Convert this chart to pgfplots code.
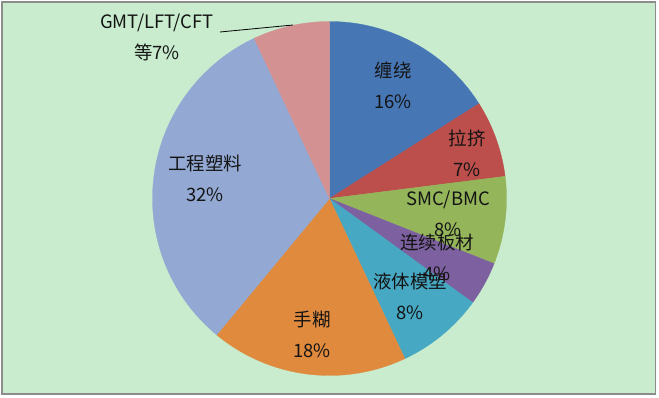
\documentclass[border=0pt]{standalone}
\usepackage{fontspec}
\setmainfont{Noto Sans CJK SC}
\usepackage{pgfplots}
\pgfplotsset{compat=1.18}
\definecolor{bg}{HTML}{C8ECCD}
\definecolor{frame}{HTML}{8C8C8C}
\definecolor{c1}{HTML}{4676B4}
\definecolor{c2}{HTML}{BC4E4B}
\definecolor{c3}{HTML}{94B55A}
\definecolor{c4}{HTML}{7D60A0}
\definecolor{c5}{HTML}{46A8C3}
\definecolor{c6}{HTML}{E08A3E}
\definecolor{c7}{HTML}{93A9D3}
\definecolor{c8}{HTML}{D39192}
\definecolor{txt}{HTML}{141414}
% #1 = cumulative percent before slice, #2 = slice percent, #3 = colour
\newcommand{\pieslice}[3]{%
  \addplot[draw=#3, line width=0.3pt, fill=#3, variable=\t, samples=90,
    domain={90-3.6*(#1+#2)}:{90-3.6*(#1)}]
    ({329.5+177*cos(\t)},{199.5+177*sin(\t)}) -- (axis cs:329.5,199.5) -- cycle;}
\begin{document}
\begin{tikzpicture}
\begin{axis}[width=659bp, height=398bp, scale only axis,
  xmin=0, xmax=659, ymin=0, ymax=398, hide axis, clip=false]
\fill[white] (axis cs:0,0) rectangle (axis cs:659,398);
\draw[fill=bg, draw=frame, line width=1.5bp] (axis cs:2,4) rectangle (axis cs:655.5,396);
% data: 缠绕 16, 拉挤 7, SMC/BMC 8, 连续板材 4, 液体模塑 8, 手糊 18, 工程塑料 32, GMT/LFT/CFT等 7
\pieslice{0}{16}{c1}
\pieslice{16}{7}{c2}
\pieslice{23}{8}{c3}
\pieslice{31}{4}{c4}
\pieslice{35}{8}{c5}
\pieslice{43}{18}{c6}
\pieslice{61}{32}{c7}
\pieslice{93}{7}{c8}
\draw[black, line width=0.8bp] (axis cs:220,366) -- (axis cs:293,373);
\begin{scope}[every node/.style={align=center, text=txt, inner sep=0pt,
   font=\fontsize{18.5}{31}\selectfont}]
\node at (axis cs:393,313) {缠绕\\16\%};
\node at (axis cs:467,245) {拉挤\\7\%};
\node at (axis cs:448,184) {SMC/BMC\\8\%};
\node at (axis cs:437,141) {连续板材\\4\%};
\node at (axis cs:410,102) {液体模塑\\8\%};
\node at (axis cs:312,64) {手糊\\18\%};
\node at (axis cs:205,220) {工程塑料\\32\%};
\node at (axis cs:157,361) {GMT/LFT/CFT\\等7\%};
\end{scope}
\end{axis}
\end{tikzpicture}
\end{document}
